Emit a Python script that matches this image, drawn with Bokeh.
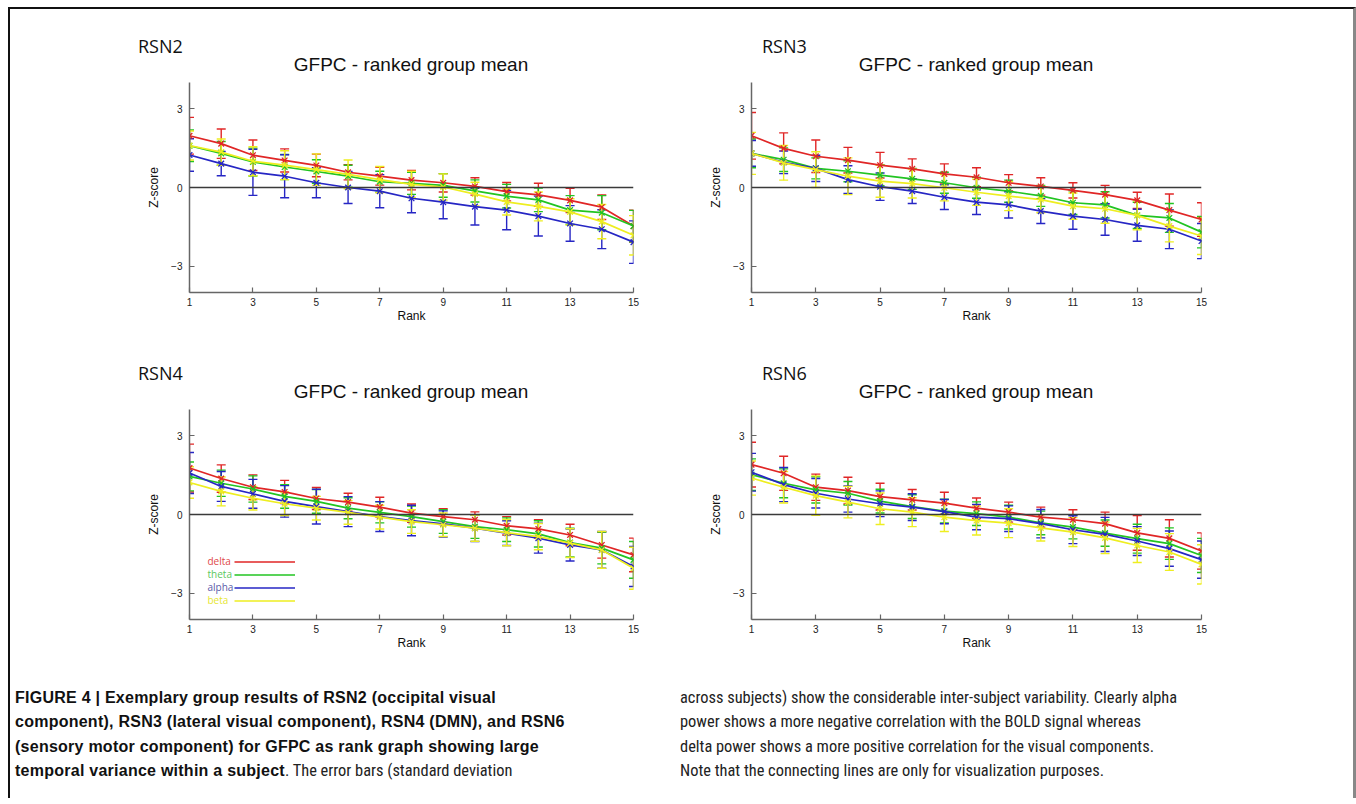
from bokeh.plotting import figure
from bokeh.models import (Range1d, FixedTicker, Span, Whisker, TeeHead, ColumnDataSource,
                          Label, Legend, LegendItem, Div)
from bokeh.layouts import row, column
from bokeh.embed import file_html
from bokeh.resources import INLINE

ranks = list(range(1, 16))
bands = ["delta", "theta", "alpha", "beta"]
band_colors = {"delta": "#e02626", "theta": "#22c422", "alpha": "#2626c4", "beta": "#eeee20"}
legend_text_colors = {"delta": "#e04848", "theta": "#5cc85c", "alpha": "#5a5aa8", "beta": "#e6e632"}
x_ticks = [1, 3, 5, 7, 9, 11, 13, 15]
y_ticks = [-3, 0, 3]

rsn2_mean = {
    "delta": [1.97, 1.67, 1.23, 1.03, 0.84, 0.58, 0.43, 0.28, 0.18, 0.04, -0.16, -0.28, -0.49, -0.75, -1.47],
    "theta": [1.59, 1.30, 0.97, 0.78, 0.61, 0.43, 0.22, 0.16, 0.08, -0.13, -0.33, -0.47, -0.86, -0.96, -1.47],
    "alpha": [1.24, 0.91, 0.58, 0.43, 0.18, 0.00, -0.14, -0.41, -0.56, -0.73, -0.86, -1.09, -1.37, -1.59, -2.08],
    "beta":  [1.60, 1.35, 1.00, 0.85, 0.68, 0.50, 0.30, 0.12, 0.02, -0.25, -0.55, -0.72, -0.93, -1.30, -1.82],
}
rsn2_sd = {
    "delta": [0.70, 0.56, 0.58, 0.44, 0.43, 0.29, 0.34, 0.37, 0.35, 0.33, 0.35, 0.44, 0.46, 0.47, 0.61],
    "theta": [0.60, 0.45, 0.53, 0.48, 0.45, 0.42, 0.40, 0.42, 0.45, 0.42, 0.45, 0.45, 0.55, 0.65, 0.60],
    "alpha": [0.62, 0.46, 0.88, 0.82, 0.57, 0.61, 0.63, 0.55, 0.63, 0.70, 0.75, 0.76, 0.68, 0.74, 0.81],
    "beta":  [0.55, 0.50, 0.55, 0.55, 0.60, 0.55, 0.50, 0.50, 0.50, 0.45, 0.50, 0.55, 0.50, 0.65, 0.75],
}
rsn3_mean = {
    "delta": [1.97, 1.49, 1.19, 1.04, 0.85, 0.71, 0.52, 0.39, 0.18, 0.04, -0.11, -0.27, -0.49, -0.86, -1.22],
    "theta": [1.30, 1.06, 0.73, 0.62, 0.47, 0.33, 0.18, -0.01, -0.14, -0.32, -0.58, -0.66, -1.06, -1.16, -1.70],
    "alpha": [1.30, 0.96, 0.73, 0.30, 0.03, -0.14, -0.37, -0.56, -0.66, -0.90, -1.09, -1.22, -1.44, -1.59, -2.04],
    "beta":  [1.30, 0.94, 0.68, 0.43, 0.24, 0.15, -0.01, -0.18, -0.33, -0.46, -0.71, -0.81, -1.06, -1.47, -1.85],
}
rsn3_sd = {
    "delta": [0.89, 0.59, 0.62, 0.49, 0.49, 0.38, 0.38, 0.36, 0.31, 0.33, 0.29, 0.35, 0.31, 0.61, 0.64],
    "theta": [0.55, 0.45, 0.40, 0.40, 0.40, 0.40, 0.40, 0.40, 0.42, 0.40, 0.45, 0.50, 0.50, 0.55, 0.60],
    "alpha": [0.49, 0.43, 0.50, 0.53, 0.52, 0.47, 0.47, 0.47, 0.50, 0.47, 0.50, 0.60, 0.61, 0.74, 0.67],
    "beta":  [0.80, 0.66, 0.68, 0.70, 0.61, 0.55, 0.50, 0.50, 0.55, 0.50, 0.50, 0.55, 0.55, 0.60, 0.70],
}
rsn4_mean = {
    "delta": [1.77, 1.37, 1.04, 0.86, 0.61, 0.47, 0.28, 0.05, -0.08, -0.20, -0.43, -0.55, -0.78, -1.16, -1.54],
    "theta": [1.45, 1.19, 0.97, 0.69, 0.50, 0.24, 0.08, -0.08, -0.27, -0.46, -0.58, -0.74, -1.07, -1.28, -1.73],
    "alpha": [1.58, 1.07, 0.79, 0.50, 0.30, 0.11, -0.08, -0.23, -0.36, -0.52, -0.71, -0.90, -1.16, -1.35, -1.98],
    "beta":  [1.22, 0.88, 0.62, 0.41, 0.24, 0.08, -0.10, -0.27, -0.39, -0.52, -0.69, -0.84, -1.09, -1.35, -2.05],
}
rsn4_sd = {
    "delta": [0.91, 0.52, 0.47, 0.44, 0.42, 0.34, 0.38, 0.35, 0.30, 0.30, 0.35, 0.35, 0.41, 0.50, 0.64],
    "theta": [0.55, 0.50, 0.50, 0.45, 0.45, 0.40, 0.40, 0.40, 0.45, 0.45, 0.45, 0.50, 0.55, 0.60, 0.70],
    "alpha": [0.78, 0.57, 0.55, 0.60, 0.66, 0.57, 0.57, 0.58, 0.50, 0.51, 0.47, 0.57, 0.61, 0.70, 0.76],
    "beta":  [0.60, 0.55, 0.45, 0.45, 0.45, 0.45, 0.45, 0.45, 0.45, 0.50, 0.50, 0.50, 0.55, 0.70, 0.80],
}
rsn6_mean = {
    "delta": [1.90, 1.57, 1.04, 0.91, 0.68, 0.56, 0.43, 0.24, 0.09, -0.10, -0.20, -0.35, -0.70, -0.91, -1.39],
    "theta": [1.52, 1.19, 0.94, 0.81, 0.51, 0.30, 0.13, 0.03, -0.10, -0.32, -0.48, -0.71, -0.92, -1.11, -1.56],
    "alpha": [1.61, 1.14, 0.81, 0.59, 0.41, 0.28, 0.11, -0.10, -0.16, -0.35, -0.58, -0.76, -1.01, -1.30, -1.72],
    "beta":  [1.39, 1.04, 0.72, 0.47, 0.22, 0.09, -0.10, -0.23, -0.33, -0.51, -0.67, -0.89, -1.18, -1.43, -1.90],
}
rsn6_sd = {
    "delta": [0.85, 0.65, 0.50, 0.51, 0.51, 0.39, 0.42, 0.39, 0.38, 0.38, 0.38, 0.44, 0.66, 0.71, 0.69],
    "theta": [0.60, 0.55, 0.50, 0.45, 0.45, 0.45, 0.45, 0.45, 0.45, 0.45, 0.45, 0.50, 0.55, 0.60, 0.65],
    "alpha": [0.72, 0.65, 0.56, 0.50, 0.49, 0.51, 0.46, 0.48, 0.49, 0.54, 0.53, 0.65, 0.55, 0.67, 0.71],
    "beta":  [0.65, 0.60, 0.75, 0.60, 0.60, 0.55, 0.55, 0.55, 0.55, 0.50, 0.55, 0.60, 0.65, 0.70, 0.75],
}

panel_title = "GFPC - ranked group mean"
caption_left_bold = ("FIGURE 4 | Exemplary group results of RSN2 (occipital visual<br>"
                     "component), RSN3 (lateral visual component), RSN4 (DMN), and RSN6<br>"
                     "(sensory motor component) for GFPC as rank graph showing large<br>"
                     "temporal variance within a subject")
caption_left_rest = ". The error bars (standard deviation"
caption_right = ("across subjects) show the considerable inter-subject variability. Clearly alpha<br>"
                 "power shows a more negative correlation with the BOLD signal whereas<br>"
                 "delta power shows a more positive correlation for the visual components.<br>"
                 "Note that the connecting lines are only for visualization purposes.")

SANS = "Liberation Sans"
HEAD_H = 70
FIG_H = 257
FRAME_H = 210
BOTTOM = 44


def make_panel(name, means, sds, panel_w, frame_left, frame_w, name_left, with_legend=False):
    head_html = (
        f"<div style=\"position:relative;width:{panel_w}px;height:{HEAD_H}px;\">"
        f"<div style=\"position:absolute;left:{name_left}px;top:27px;font-family:'Open Sans';"
        f"font-size:18px;line-height:20px;color:#111;white-space:nowrap;\">{name}</div>"
        f"<div style=\"position:absolute;left:{frame_left}px;width:{frame_w}px;top:45px;"
        f"text-align:center;font-family:'Liberation Sans';font-size:19px;line-height:22px;"
        f"color:#111;white-space:nowrap;\">{panel_title}</div></div>")
    head = Div(text=head_html, width=panel_w, height=HEAD_H, margin=0)

    p = figure(width=panel_w, height=FIG_H, x_range=Range1d(1, 15), y_range=Range1d(-4, 4),
               output_backend="svg", toolbar_location=None, title=None,
               min_border_left=frame_left, min_border_right=panel_w - frame_left - frame_w,
               min_border_top=FIG_H - BOTTOM - FRAME_H, min_border_bottom=BOTTOM)
    p.outline_line_color = None
    p.grid.visible = False
    p.background_fill_color = "white"
    p.border_fill_color = "white"

    for ax in (p.xaxis[0], p.yaxis[0]):
        ax.axis_line_color = "#666666"
        ax.axis_line_width = 1.5
        ax.major_tick_line_color = "#666666"
        ax.major_tick_line_width = 1.2
        ax.major_tick_in = 5
        ax.major_tick_out = 0
        ax.minor_tick_line_color = None
        ax.major_label_text_font = SANS
        ax.major_label_text_font_size = "10px"
        ax.major_label_text_color = "#222222"
        ax.axis_label_text_font = SANS
        ax.axis_label_text_font_size = "12px"
        ax.axis_label_text_font_style = "normal"
        ax.axis_label_text_color = "#111111"
    p.xaxis.ticker = FixedTicker(ticks=x_ticks)
    p.yaxis.ticker = FixedTicker(ticks=y_ticks)
    p.xaxis.axis_label = "Rank"
    p.yaxis.axis_label = "Z-score"
    p.xaxis.major_label_standoff = 5
    p.yaxis.major_label_standoff = 7
    p.xaxis.axis_label_standoff = 0
    p.yaxis.axis_label_standoff = 7

    p.add_layout(Span(location=0, dimension="width", line_color="#3a3a3a", line_width=1.5))

    line_renderers = {}
    for b in bands:
        c = band_colors[b]
        m = means[b]
        s = sds[b]
        src = ColumnDataSource(dict(x=ranks, y=m,
                                    upper=[a + d for a, d in zip(m, s)],
                                    lower=[a - d for a, d in zip(m, s)]))
        w = Whisker(base="x", upper="upper", lower="lower", source=src,
                    line_color=c, line_width=1.4,
                    upper_head=TeeHead(size=9, line_color=c, line_width=1.4),
                    lower_head=TeeHead(size=9, line_color=c, line_width=1.4))
        p.add_layout(w)
        line_renderers[b] = p.line("x", "y", source=src, line_color=c, line_width=1.7)
        p.scatter("x", "y", source=src, marker="x", size=8, line_color=c, line_width=1.3)

    if with_legend:
        items = [LegendItem(label=" ", renderers=[line_renderers[b]]) for b in bands]
        lg = Legend(items=items, location=(45, 12), glyph_width=61, glyph_height=13,
                    label_width=0, label_height=13, label_standoff=0, spacing=0, padding=0,
                    margin=0, border_line_alpha=0, background_fill_alpha=0,
                    label_text_font_size="1px")
        p.add_layout(lg)
        for i, b in enumerate(bands):
            p.add_layout(Label(x=18, y=59 - i * 13.3, x_units="screen", y_units="screen",
                               text=b, text_color=legend_text_colors[b], text_font="Open Sans",
                               text_font_size="10px", text_baseline="middle"))
    return column(head, p, spacing=0, margin=0)


LEFT_W = 670
RIGHT_W = 673
p1 = make_panel("RSN2", rsn2_mean, rsn2_sd, LEFT_W, 179, 444, 128)
p2 = make_panel("RSN3", rsn3_mean, rsn3_sd, RIGHT_W, 71, 450, 82)
p3 = make_panel("RSN4", rsn4_mean, rsn4_sd, LEFT_W, 179, 444, 128, with_legend=True)
p4 = make_panel("RSN6", rsn6_mean, rsn6_sd, RIGHT_W, 71, 450, 82)

narrow = "font-family:'Liberation Sans Narrow','Roboto Condensed','Liberation Sans',sans-serif;"
cap_style = narrow + "font-size:16.4px;line-height:24.3px;color:#222;white-space:nowrap;"
bold_style = ("font-family:'Liberation Sans',sans-serif;font-weight:bold;font-size:16px;"
              "letter-spacing:0.25px;color:#111;")
d1 = Div(text=(f"<div style=\"{cap_style}padding:23px 0 0 5px;\">"
               f"<span style=\"{bold_style}\">{caption_left_bold}</span>{caption_left_rest}</div>"),
         width=LEFT_W, height=135, margin=0)
d2 = Div(text=f"<div style=\"{cap_style}padding:23px 0 0 0;\">{caption_right}</div>",
         width=RIGHT_W, height=135, margin=0)

layout = column(row(p1, p2), row(p3, p4), row(d1, d2), margin=(7, 0, 0, 8),
                styles={"border-top": "2px solid #111", "border-left": "2px solid #111",
                        "border-right": "3px solid #888", "background": "white"})

open("out.html", "w").write(file_html(layout, INLINE))
